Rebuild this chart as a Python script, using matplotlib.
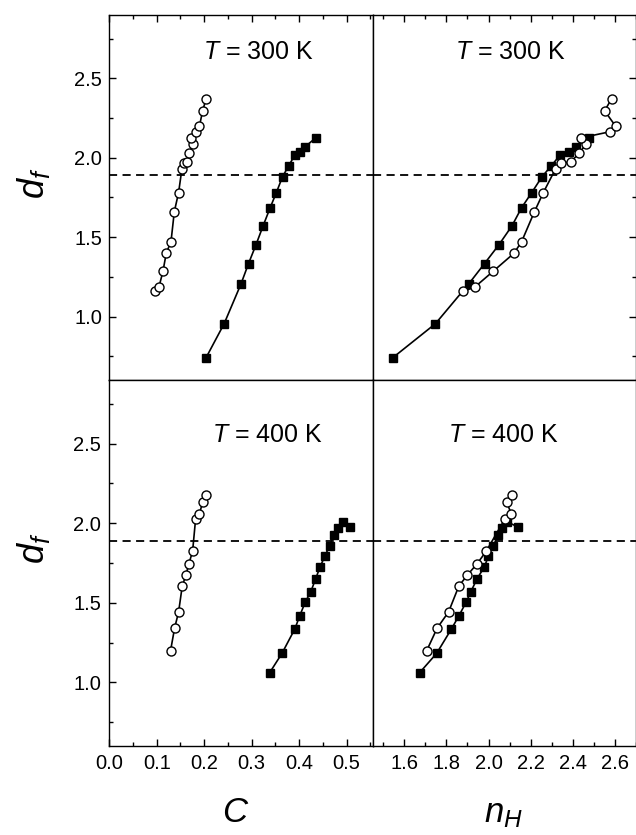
import numpy as np
import matplotlib
matplotlib.use('Agg')
import matplotlib.pyplot as plt
from matplotlib.ticker import MultipleLocator

plt.rcParams['font.family'] = ['Liberation Sans', 'DejaVu Sans']
plt.rcParams['mathtext.fontset'] = 'custom'
plt.rcParams['mathtext.rm'] = 'Liberation Sans'
plt.rcParams['mathtext.it'] = 'Liberation Sans:italic'

# T = 300 K, open circles
c300_open = [0.0955, 0.1046, 0.113, 0.120, 0.130, 0.137, 0.146, 0.153, 0.158, 0.1636,
             0.1685, 0.1755, 0.172, 0.1825, 0.190, 0.1966, 0.204]
n300_open = [1.879, 1.935, 2.021, 2.121, 2.157, 2.218, 2.260, 2.318, 2.343, 2.39,
             2.43, 2.463, 2.44, 2.575, 2.603, 2.551, 2.584]
d300_open = [1.158, 1.186, 1.284, 1.399, 1.472, 1.661, 1.781, 1.930, 1.965, 1.975,
             2.028, 2.087, 2.126, 2.164, 2.200, 2.296, 2.372]

# T = 300 K, filled squares
c300_fill = [0.2036, 0.242, 0.2773, 0.2934, 0.3088, 0.324, 0.339, 0.352, 0.365, 0.378,
             0.391, 0.4015, 0.4127, 0.435]
n300_fill = [1.544, 1.748, 1.905, 1.981, 2.048, 2.111, 2.157, 2.205, 2.254, 2.298,
             2.340, 2.380, 2.414, 2.475]
d300_fill = [0.739, 0.955, 1.204, 1.334, 1.450, 1.571, 1.686, 1.781, 1.881, 1.950,
             2.018, 2.038, 2.070, 2.126]

# T = 400 K, open circles
c400_open = [0.129, 0.1376, 0.146, 0.1537, 0.1615, 0.1678, 0.1755, 0.1819, 0.190, 0.1966, 0.204]
n400_open = [1.706, 1.756, 1.810, 1.859, 1.900, 1.946, 1.989, 2.078, 2.108, 2.086, 2.111]
d400_open = [1.198, 1.341, 1.442, 1.605, 1.675, 1.746, 1.824, 2.028, 2.059, 2.132, 2.176]

# T = 400 K, filled squares
c400_fill = [0.338, 0.364, 0.391, 0.4015, 0.413, 0.4246, 0.435, 0.444, 0.454, 0.464,
             0.473, 0.482, 0.492, 0.507]
n400_fill = [1.673, 1.754, 1.824, 1.860, 1.894, 1.916, 1.946, 1.980, 1.999, 2.022,
             2.046, 2.065, 2.089, 2.141]
d400_fill = [1.061, 1.183, 1.336, 1.420, 1.505, 1.570, 1.652, 1.725, 1.792, 1.857,
             1.924, 1.971, 2.009, 1.975]

df_crit = 1.89

c_ticks = [0.0, 0.1, 0.2, 0.3, 0.4, 0.5]
n_ticks = [1.6, 1.8, 2.0, 2.2, 2.4, 2.6]

W, H = 636, 835
fig = plt.figure(figsize=(W / 100, H / 100), dpi=100)

def px_axes(x0, y0, x1, y1):
    return fig.add_axes([x0 / W, 1 - y1 / H, (x1 - x0) / W, (y1 - y0) / H])

ax_tl = px_axes(109.3, 15, 372.7, 380)
ax_tr = px_axes(372.7, 15, 636, 380)
ax_bl = px_axes(109.3, 380, 372.7, 746)
ax_br = px_axes(372.7, 380, 636, 746)

open_kw = dict(color='black', lw=1.2, marker='o', ms=6.5, mfc='white', mec='black', mew=1.0)
fill_kw = dict(color='black', lw=1.2, marker='s', ms=5.5, mfc='black', mec='black')

ax_tl.plot(c300_open, d300_open, **open_kw)
ax_tl.plot(c300_fill, d300_fill, **fill_kw)
ax_tr.plot(n300_fill, d300_fill, **fill_kw)
ax_tr.plot(n300_open, d300_open, **open_kw)
ax_bl.plot(c400_open, d400_open, **open_kw)
ax_bl.plot(c400_fill, d400_fill, **fill_kw)
ax_br.plot(n400_fill, d400_fill, **fill_kw)
ax_br.plot(n400_open, d400_open, **open_kw)

for ax in (ax_tl, ax_tr, ax_bl, ax_br):
    ax.axhline(df_crit, color='black', lw=1.3, ls=(0, (4.5, 3)), zorder=1)
    ax.set_ylim(0.6, 2.9)
    ax.yaxis.set_major_locator(MultipleLocator(0.5))
    ax.yaxis.set_minor_locator(MultipleLocator(0.25))
    for s in ax.spines.values():
        s.set_linewidth(1.0)
    ax.tick_params(which='both', direction='in', top=False, bottom=False, left=False, right=False,
                   labelleft=False, labelbottom=False, labelsize=14.5)
    ax.tick_params(which='major', length=5, width=1.0)
    ax.tick_params(which='minor', length=3, width=1.0)

for ax in (ax_tl, ax_bl):
    ax.xaxis.set_major_locator(MultipleLocator(0.1))
    ax.xaxis.set_minor_locator(MultipleLocator(0.05))
    ax.tick_params(which='both', left=True, labelleft=True, pad=5)

for ax in (ax_tr, ax_br):
    ax.xaxis.set_major_locator(MultipleLocator(0.2))
    ax.xaxis.set_minor_locator(MultipleLocator(0.1))

ax_tl.tick_params(which='both', top=True)
ax_tr.tick_params(which='both', top=True, right=True)
ax_bl.tick_params(which='both', bottom=True, labelbottom=True, pad=6)
ax_br.tick_params(which='both', bottom=True, labelbottom=True, pad=6)

ax_bl.set_xticks(c_ticks)
ax_bl.set_xticklabels(['%.1f' % v for v in c_ticks])
ax_br.set_xticks(n_ticks)
ax_br.set_xticklabels(['%.1f' % v for v in n_ticks])

for ax in (ax_tl, ax_bl):
    ax.set_xlim(0.0, 0.555)
for ax in (ax_tr, ax_br):
    ax.set_xlim(1.45, 2.7)

ax_tl.text(0.565, 0.899, '$T$ = 300 K', transform=ax_tl.transAxes, ha='center', va='center', fontsize=18)
ax_tr.text(0.523, 0.899, '$T$ = 300 K', transform=ax_tr.transAxes, ha='center', va='center', fontsize=18)
ax_bl.text(0.599, 0.85, '$T$ = 400 K', transform=ax_bl.transAxes, ha='center', va='center', fontsize=18)
ax_br.text(0.497, 0.85, '$T$ = 400 K', transform=ax_br.transAxes, ha='center', va='center', fontsize=18)

fig.text(34 / W, 1 - 183 / H, '$d_f$', ha='center', va='center', rotation=90, fontsize=26)
fig.text(34 / W, 1 - 548 / H, '$d_f$', ha='center', va='center', rotation=90, fontsize=26)
fig.text(236 / W, 1 - 822 / H, '$C$', ha='center', va='baseline', fontsize=25)
fig.text(503 / W, 1 - 822 / H, '$n_H$', ha='center', va='baseline', fontsize=25)

fig.savefig('out.png', dpi=100)
